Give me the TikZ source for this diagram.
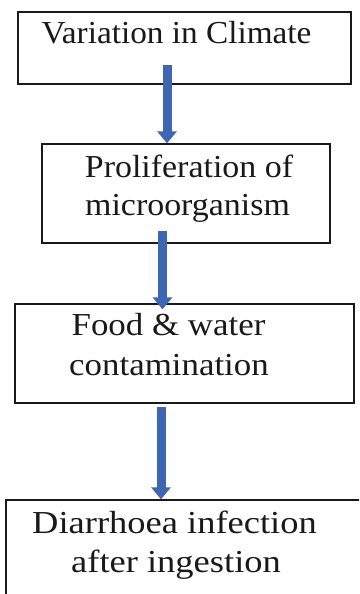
\documentclass[tikz,border=0pt]{standalone}
\usepackage{fontspec}
\setmainfont{Liberation Serif}
\usetikzlibrary{arrows.meta}
\definecolor{arrowblue}{HTML}{3F66B3}
\definecolor{boxline}{HTML}{1A1A1A}
\tikzset{
  box/.style={draw=boxline, line width=1.3pt, rectangle, inner sep=0pt},
  lbl/.style={anchor=base, inner sep=0pt, font=\fontsize{32}{38}\selectfont, text=black!90},
  flowarrow/.style={draw=arrowblue, line width=9pt, line cap=butt,
    -{Triangle[width=19pt,length=12pt]}}
}
\begin{document}
\begin{tikzpicture}[x=1pt,y=-1pt]
\useasboundingbox (0,0) rectangle (359,594);
\clip (0,0) rectangle (359,594);
\fill[white] (0,0) rectangle (359,594);
% boxes
\node[box, minimum width=333pt, minimum height=72pt] (b1) at (184.5,48) {};
\node[box, minimum width=288pt, minimum height=99pt] (b2) at (186,193.5) {};
\node[box, minimum width=339pt, minimum height=99pt] (b3) at (184.5,353.5) {};
\node[box, minimum width=400pt, minimum height=150pt] (b4) at (206,575) {};
% texts
\node[lbl] (t1) at (176.5,44) {\scalebox{1.04}[1]{Variation in Climate}};
\node[lbl] (t2a) at (189,177) {\scalebox{1.06}[1]{Proliferation of}};
\node[lbl] (t2b) at (187.5,215) {\scalebox{1.06}[1]{microorganism}};
\node[lbl] (t3a) at (168.5,335) {\scalebox{1.09}[1]{Food \& water}};
\node[lbl] (t3b) at (169,375) {\scalebox{1.09}[1]{contamination}};
\node[lbl] (t4a) at (174.5,533) {\scalebox{1.14}[1]{Diarrhoea infection}};
\node[lbl] (t4b) at (176,572) {\scalebox{1.14}[1]{after ingestion}};
% arrows
\coordinate (a1) at (167,65);
\coordinate (a2) at (162.5,231);
\coordinate (a3) at (161,407);
\draw[flowarrow] (a1) -- (a1 |- b2.north);
\draw[flowarrow] (a2) -- ([yshift=-6pt]a2 |- b3.north);
\draw[flowarrow] (a3) -- (a3 |- b4.north);
\end{tikzpicture}
\end{document}
